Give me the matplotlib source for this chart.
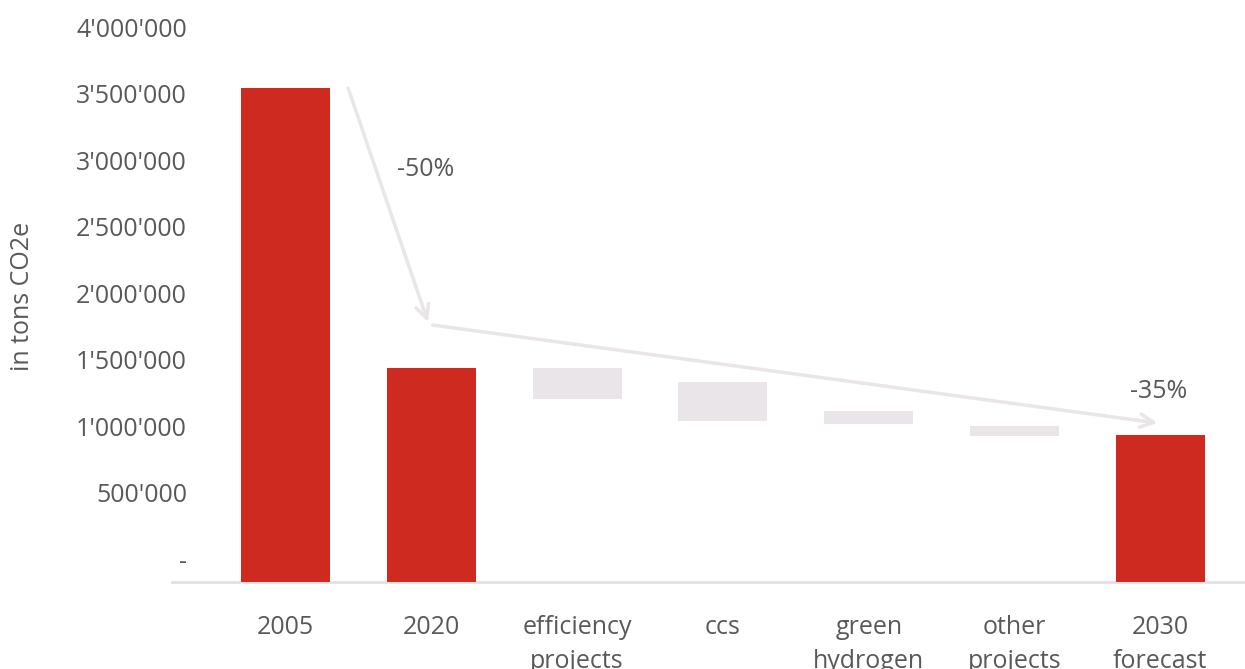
import matplotlib.pyplot as plt
import numpy as np

# Emissions path in tons CO2e
categories = ["2005", "2020", "efficiency\nprojects", "ccs", "green\nhydrogen", "other\nprojects", "2030\nforecast"]
totals = {"2005": 3540000, "2020": 1436000, "2030\nforecast": 932000}
# reduction steps drawn as floating boxes (top, bottom)
step_tops = {"efficiency\nprojects": 1436000, "ccs": 1331000, "green\nhydrogen": 1113000, "other\nprojects": 1000000}
step_bottoms = {"efficiency\nprojects": 1203000, "ccs": 1040000, "green\nhydrogen": 1017000, "other\nprojects": 927000}
change_labels = ["-50%", "-35%"]
y_ticks = [0, 500000, 1000000, 1500000, 2000000, 2500000, 3000000, 3500000, 4000000]

RED = "#CF2A1F"
PALE = "#EAE5E8"
TEXT = "#595959"
y_floor = -173000

plt.rcParams['font.family'] = ['Open Sans', 'DejaVu Sans']

fig = plt.figure(figsize=(12.45, 6.69), dpi=100)
ax = fig.add_axes([0.1382, 0.1300, 0.8618, 0.8700])

x = np.arange(len(categories))
width = 0.61

for i, cat in enumerate(categories):
    if cat in totals:
        ax.bar(i, totals[cat] - y_floor, bottom=y_floor, width=width, color=RED, zorder=3)
    else:
        ax.bar(i, step_tops[cat] - step_bottoms[cat], bottom=step_bottoms[cat],
               width=width, color=PALE, zorder=3)

ax.set_xlim(-0.778, 6.581)
ax.set_ylim(y_floor, 4203000)

# axes styling
for side in ["top", "right", "left"]:
    ax.spines[side].set_visible(False)
ax.spines["bottom"].set_color("#E4DFE2")
ax.spines["bottom"].set_linewidth(2)

def fmt(v):
    return "-" if v == 0 else f"{v:,}".replace(",", "'")

ax.set_yticks(y_ticks)
ax.set_yticklabels([fmt(v) for v in y_ticks])
ax.tick_params(axis="y", length=0, pad=-10.8, labelsize=18, labelcolor=TEXT)
ax.set_xticks(x)
ax.set_xticklabels(categories, linespacing=1.5)
ax.tick_params(axis="x", length=0, pad=23.5, labelsize=18, labelcolor=TEXT)

ax.set_ylabel("in tons CO2e", fontsize=18, color=TEXT, va="center")
ax.yaxis.set_label_coords(-0.1398, 0.491)

# trend arrows between the totals
arrow_style = dict(arrowstyle="->", color=PALE, lw=2.5, mutation_scale=24, shrinkA=0, shrinkB=0)
v05, v20, v30 = totals["2005"], totals["2020"], totals["2030\nforecast"]
ax.annotate("", xy=(0.977, v20 + 346000), xytext=(0.43, v05), arrowprops=arrow_style, zorder=4)
ax.annotate("", xy=(5.98, v30 + 91000), xytext=(1.01, v20 + 323000), arrowprops=arrow_style, zorder=4)

ax.text(0.96, 2932000, change_labels[0], fontsize=18, color=TEXT, ha="center", va="center")
ax.text(5.99, 1260000, change_labels[1], fontsize=18, color=TEXT, ha="center", va="center")

fig.savefig("out.png", dpi=100)
